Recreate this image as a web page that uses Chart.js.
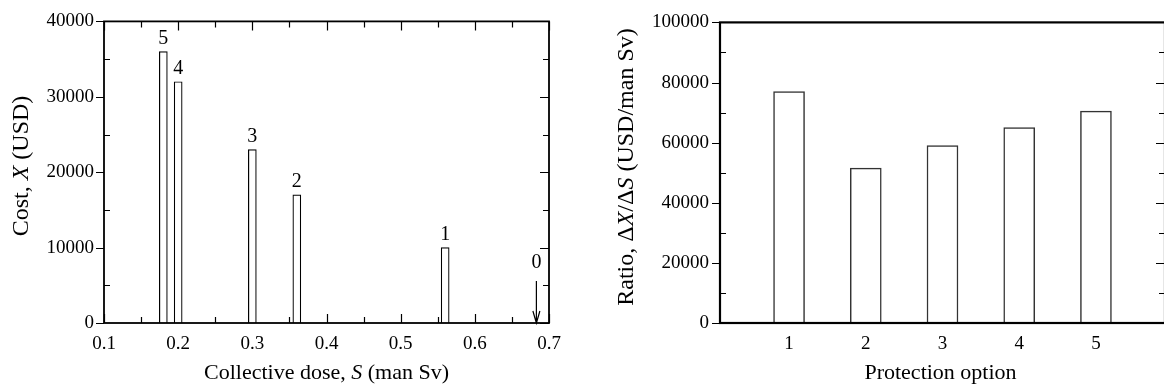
<!DOCTYPE html>
<html>
<head>
<meta charset="utf-8">
<script src="https://cdn.jsdelivr.net/npm/chart.js@4.4.0/dist/chart.umd.min.js"></script>
<style>
    html, body { margin: 0; padding: 0; background: #fff; overflow: hidden; }
    #wrap { position: relative; width: 1164px; height: 390px; overflow: hidden; }
    .panel { position: absolute; top: 0; height: 390px; }
    #left { left: 0; width: 582px; }
    #right { left: 582px; width: 600px; }
</style>
</head>
<body>
<div id="wrap">
    <div class="panel" id="left"><canvas id="costChart"></canvas></div>
    <div class="panel" id="right"><canvas id="ratioChart"></canvas></div>
</div>
<script>
// left panel: cost against collective dose
const optionNames = ['5', '4', '3', '2', '1'];
const doseValues = [0.18, 0.20, 0.30, 0.36, 0.56];
const costValues = [36000, 32000, 23000, 17000, 10000];
const baseOptionName = '0';
const baseOptionDose = 0.683;
const doseTicks = [0.1, 0.2, 0.3, 0.4, 0.5, 0.6, 0.7];
const costTicks = [0, 10000, 20000, 30000, 40000];

// right panel: ratio per protection option
const protectionOptions = [1, 2, 3, 4, 5];
const ratioValues = [77000, 51500, 59000, 65000, 70500];
const ratioTicks = [0, 20000, 40000, 60000, 80000, 100000];

const serif = "'Liberation Serif', 'DejaVu Serif', serif";
Chart.defaults.font.family = serif;
Chart.defaults.color = '#000';

function midpoints(arr) {
    let out = []
    for (let i = 0; i < arr.length - 1; i++) out.push((arr[i] + arr[i + 1]) / 2)
    return out
}

// draws text made of plain and italic pieces, centred on (x, y)
function richText(ctx, parts, x, y, size, rotate) {
    ctx.save()
    ctx.translate(x, y)
    if (rotate) ctx.rotate(-Math.PI / 2)
    ctx.textBaseline = 'middle'
    ctx.textAlign = 'left'
    ctx.fillStyle = '#000'
    let total = 0
    parts.forEach(p => {
        ctx.font = (p.it ? 'italic ' : '') + size + 'px ' + serif
        p.w = ctx.measureText(p.t).width
        total += p.w
    })
    let cx = -total / 2
    parts.forEach(p => {
        ctx.font = (p.it ? 'italic ' : '') + size + 'px ' + serif
        ctx.fillText(p.t, cx, 0)
        cx += p.w
    })
    ctx.restore()
}

// ticks go under the bars, frame and titles on top
const framePlugin = {
    id: 'frame',
    beforeDatasetsDraw(chart, args, opts) {
        const ctx = chart.ctx
        const a = chart.chartArea
        const xs = chart.scales.x, ys = chart.scales.y
        ctx.save()
        ctx.strokeStyle = '#000'
        ctx.lineWidth = opts.tickWidth
        ctx.beginPath()
        const xTick = (list, len) => list.forEach(v => {
            const px = Math.round(xs.getPixelForValue(v)) + 0.5
            ctx.moveTo(px, a.bottom); ctx.lineTo(px, a.bottom - len)
            ctx.moveTo(px, a.top); ctx.lineTo(px, a.top + len)
        })
        const yTick = (list, leftLen, rightLen) => list.forEach(v => {
            const py = Math.round(ys.getPixelForValue(v)) + 0.5
            ctx.moveTo(a.left, py); ctx.lineTo(a.left + leftLen, py)
            ctx.moveTo(a.right, py); ctx.lineTo(a.right - rightLen, py)
        })
        if (opts.xMajor) {
            xTick(opts.xMajor, 9)
            xTick(midpoints(opts.xMajor), 6)
        }
        // major ticks stick out to the left of the left axis
        yTick(opts.yMajor, -8, 9)
        yTick(midpoints(opts.yMajor), 6, 6)
        ctx.stroke()
        ctx.restore()
    },
    afterDraw(chart, args, opts) {
        const ctx = chart.ctx
        const a = chart.chartArea
        ctx.save()
        ctx.strokeStyle = '#000'
        ctx.lineWidth = opts.frameWidth
        ctx.strokeRect(a.left, a.top, a.right - a.left, a.bottom - a.top)
        ctx.restore()
        richText(ctx, opts.xTitle, (a.left + a.right) / 2 + opts.xTitleShift, 373, 22, false)
        richText(ctx, opts.yTitle, opts.yTitleX, opts.yTitleY, 24, true)
    }
}

// numbers above the bars and the arrow for option 0
const optionLabelPlugin = {
    id: 'optionLabels',
    afterDatasetsDraw(chart) {
        const ctx = chart.ctx
        const meta = chart.getDatasetMeta(0)
        ctx.save()
        ctx.fillStyle = '#000'
        ctx.font = '20px ' + serif
        ctx.textAlign = 'center'
        ctx.textBaseline = 'middle'
        meta.data.forEach((el, i) => {
            ctx.fillText(optionNames[i], el.x, el.y - 13)
        })
        const x = chart.scales.x.getPixelForValue(baseOptionDose)
        const y0 = chart.scales.y.getPixelForValue(0)
        ctx.strokeStyle = '#000'
        ctx.lineWidth = 1.2
        ctx.beginPath()
        ctx.moveTo(x, y0 - 42); ctx.lineTo(x, y0)
        ctx.moveTo(x - 3.5, y0 - 12); ctx.lineTo(x, y0); ctx.lineTo(x + 3.5, y0 - 12)
        ctx.stroke()
        ctx.fillText(baseOptionName, x, y0 - 60)
        ctx.restore()
    }
}

const tickFont = { family: serif, size: 19 }

const costChart = new Chart(document.getElementById('costChart'), {
    type: 'bar',
    data: {
        datasets: [{
            data: doseValues.map((d, i) => ({ x: d, y: costValues[i] })),
            backgroundColor: '#fff',
            borderColor: '#000',
            borderWidth: 1.2,
            barThickness: 8
        }]
    },
    options: {
        animation: false,
        responsive: true,
        maintainAspectRatio: false,
        layout: { padding: { top: 16, right: 33, left: 0, bottom: 0 } },
        plugins: {
            legend: { display: false },
            tooltip: { enabled: false },
            frame: {
                xMajor: doseTicks, yMajor: costTicks, tickWidth: 1.2, frameWidth: 1.8,
                xTitle: [{ t: 'Collective dose, ' }, { t: 'S', it: true }, { t: ' (man Sv)' }],
                xTitleShift: 0,
                yTitle: [{ t: 'Cost, ' }, { t: 'X', it: true }, { t: ' (USD)' }],
                yTitleX: 22, yTitleY: 166
            }
        },
        scales: {
            x: {
                type: 'linear', min: 0.1, max: 0.7, offset: false,
                grid: { display: false, drawTicks: false },
                border: { display: false },
                afterBuildTicks: s => { s.ticks = doseTicks.map(v => ({ value: v })) },
                afterFit: s => { s.height = 67 },
                ticks: { font: tickFont, padding: 10, callback: v => v.toFixed(1) }
            },
            y: {
                min: 0, max: 40000,
                grid: { display: false, drawTicks: false },
                border: { display: false },
                afterBuildTicks: s => { s.ticks = costTicks.map(v => ({ value: v })) },
                afterFit: s => { s.width = 104 },
                ticks: { font: tickFont, padding: 10, callback: v => String(v) }
            }
        }
    },
    plugins: [framePlugin, optionLabelPlugin]
})

const ratioChart = new Chart(document.getElementById('ratioChart'), {
    type: 'bar',
    data: {
        datasets: [{
            data: protectionOptions.map((p, i) => ({ x: p, y: ratioValues[i] })),
            backgroundColor: '#fff',
            borderColor: '#333',
            borderWidth: 1.5,
            barThickness: 31
        }]
    },
    options: {
        animation: false,
        responsive: true,
        maintainAspectRatio: false,
        layout: { padding: { top: 16, right: 17, left: 0, bottom: 0 } },
        plugins: {
            legend: { display: false },
            tooltip: { enabled: false },
            frame: {
                xMajor: null, yMajor: ratioTicks, tickWidth: 1.2, frameWidth: 2.2,
                xTitle: [{ t: 'Protection option' }],
                xTitleShift: -2,
                yTitle: [{ t: 'Ratio, \u0394' }, { t: 'X', it: true }, { t: '/\u0394' }, { t: 'S', it: true }, { t: ' (USD/man Sv)' }],
                yTitleX: 627 - 582, yTitleY: 167
            }
        },
        scales: {
            x: {
                type: 'linear', min: 0.1, max: 5.9, offset: false,
                grid: { display: false, drawTicks: false },
                border: { display: false },
                afterBuildTicks: s => { s.ticks = protectionOptions.map(v => ({ value: v })) },
                afterFit: s => { s.height = 67 },
                ticks: { font: tickFont, padding: 10, callback: v => String(v) }
            },
            y: {
                min: 0, max: 100000,
                grid: { display: false, drawTicks: false },
                border: { display: false },
                afterBuildTicks: s => { s.ticks = ratioTicks.map(v => ({ value: v })) },
                afterFit: s => { s.width = 138 },
                ticks: { font: tickFont, padding: 11, callback: v => String(v) }
            }
        }
    },
    plugins: [framePlugin]
})
</script>
</body>
</html>
